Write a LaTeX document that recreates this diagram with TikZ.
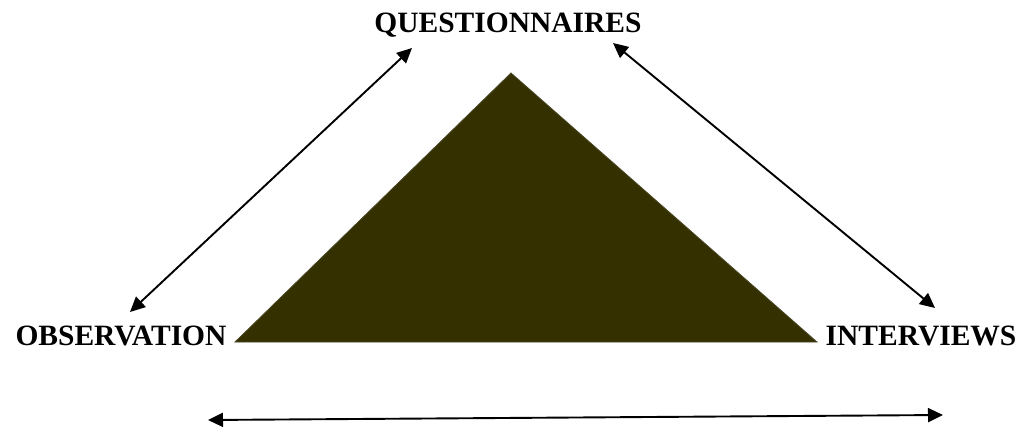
\documentclass[tikz,border=0pt]{standalone}
\usepackage{fontspec}
\setmainfont{Liberation Serif}
\usetikzlibrary{arrows.meta}
\definecolor{olivedark}{RGB}{52,48,0}
\tikzset{
  label/.style={font=\fontsize{29.5}{32}\selectfont\bfseries, inner sep=0pt, anchor=base},
  link/.style={line width=1.9pt, {Triangle[length=15pt,width=14pt]}-{Triangle[length=15pt,width=14pt]}}
}
\begin{document}
\begin{tikzpicture}[x=1pt, y=-1pt]
    \useasboundingbox (0,0) rectangle (1023,428);
    % Triangle
    \filldraw[fill=olivedark, draw=olivedark!70!gray, line width=0.8pt] (511,73) -- (817,342) -- (235,342) -- cycle;
    % Labels
    \node[label] (quest) at (508,33) {QUESTIONNAIRES};
    \node[label] (obs) at (121,345) {OBSERVATION};
    \node[label] (intv) at (921,345) {INTERVIEWS};
    % Arrow ends
    \coordinate (obsT) at (130,312); \coordinate (questL) at (412,48);
    \coordinate (questR) at (613,43); \coordinate (intvT) at (935,308);
    \coordinate (baseL) at (208,420); \coordinate (baseR) at (943,415);
    % Arrows
    \draw[link] (obsT) -- (questL);
    \draw[link] (questR) -- (intvT);
    \draw[link] (baseL) -- (baseR);
\end{tikzpicture}
\end{document}
